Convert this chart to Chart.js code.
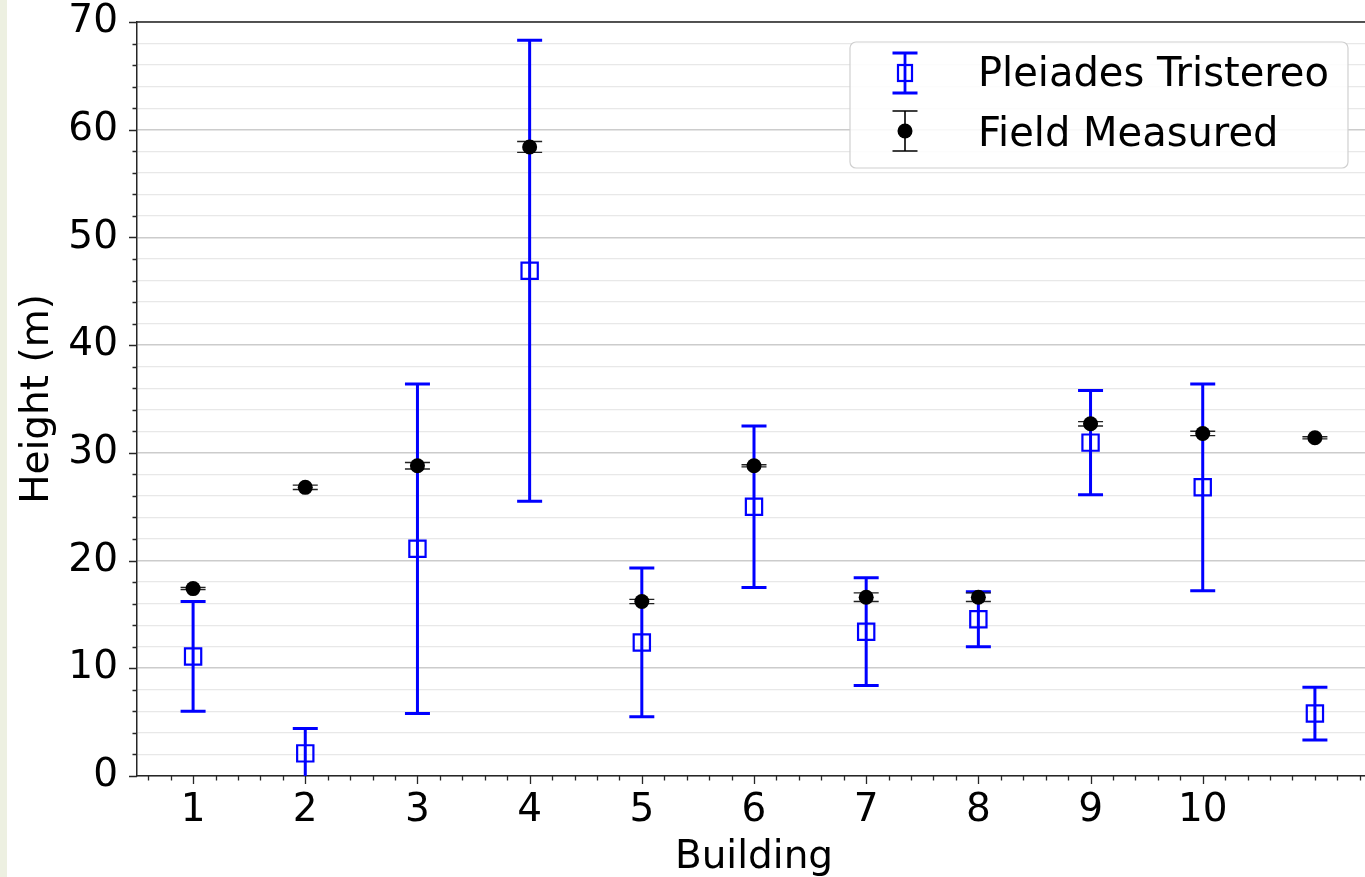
<!DOCTYPE html>
<html>
<head>
<meta charset="utf-8">
<script src="https://cdn.jsdelivr.net/npm/chart.js@4/dist/chart.umd.min.js"></script>
<style>
  html, body { margin: 0; padding: 0; overflow: hidden; background: #edf0e1; }
  #chart { position: absolute; left: 7px; top: 0; background: #ffffff; }
</style>
</head>
<body>
<canvas id="chart" width="1380" height="877"></canvas>
<script>
// building numbers on the x axis
const buildings = [1, 2, 3, 4, 5, 6, 7, 8, 9, 10, 11];

// Pleiades Tristereo heights and symmetric errors (m)
const pleiadesHeight = [11.1, 2.1, 21.1, 46.9, 12.4, 25.0, 13.4, 14.55, 30.95, 26.8, 5.8];
const pleiadesErr = [5.1, 2.3, 15.3, 21.4, 6.9, 7.5, 5.0, 2.55, 4.85, 9.6, 2.45];

// field measured heights and errors (m)
const fieldHeight = [17.4, 26.8, 28.8, 58.4, 16.2, 28.8, 16.6, 16.6, 32.7, 31.8, 31.4];
const fieldErr = [0.1, 0.2, 0.3, 0.5, 0.2, 0.1, 0.4, 0.4, 0.2, 0.2, 0.1];

// axis ticks
const xTickValues = [1, 2, 3, 4, 5, 6, 7, 8, 9, 10];
const xTickLabels = ["1", "2", "3", "4", "5", "6", "7", "8", "9", "10"];
const yTickValues = [0, 10, 20, 30, 40, 50, 60, 70];
const yMinorStep = 2;
const xMinorStep = 0.2;

const FONT = "DejaVu Sans";
const FONT_SIZE = 39;
const BLUE = "#0000ff";

const yAllTicks = [];
for (let v = 0; v <= 70; v += yMinorStep) yAllTicks.push(v);

// draws error bars before each dataset's points
const errorBars = {
  id: "errorBars",
  beforeDatasetDraw(chart, args) {
    const ds = chart.data.datasets[args.index];
    const { x, y } = chart.scales;
    const area = chart.chartArea;
    const ctx = chart.ctx;
    ctx.save();
    ctx.beginPath();
    ctx.rect(area.left, area.top, area.right - area.left, area.bottom - area.top);
    ctx.clip();
    ctx.strokeStyle = ds.errColor;
    ctx.lineWidth = ds.errWidth;
    ds.data.forEach((p, i) => {
      const px = x.getPixelForValue(p.x);
      const top = y.getPixelForValue(p.y + ds.errors[i]);
      const bot = y.getPixelForValue(p.y - ds.errors[i]);
      ctx.beginPath();
      ctx.moveTo(px, top); ctx.lineTo(px, bot);
      ctx.moveTo(px - 12.5, top); ctx.lineTo(px + 12.5, top);
      ctx.moveTo(px - 12.5, bot); ctx.lineTo(px + 12.5, bot);
      ctx.stroke();
    });
    ctx.restore();
  }
};

// tick marks, top spine and legend
const frame = {
  id: "frame",
  afterDraw(chart) {
    const ctx = chart.ctx;
    const { x, y } = chart.scales;
    const area = chart.chartArea;
    ctx.save();
    ctx.strokeStyle = "#262626";
    ctx.lineWidth = 1.3;
    ctx.beginPath();
    yAllTicks.forEach(v => {
      const py = Math.round(y.getPixelForValue(v)) + 0.5;
      const len = v % 10 === 0 ? 8 : 4.5;
      ctx.moveTo(area.left - len, py); ctx.lineTo(area.left, py);
    });
    for (let k = 3; k <= 57; k++) {
      const v = k * xMinorStep;
      const px = Math.round(x.getPixelForValue(v)) + 0.5;
      const major = xTickValues.includes(Math.round(v * 10) / 10);
      ctx.moveTo(px, area.bottom); ctx.lineTo(px, area.bottom + (major ? 8 : 4.5));
    }
    ctx.stroke();
    // top and right spines
    ctx.lineWidth = 1.5;
    ctx.beginPath();
    ctx.moveTo(area.left, area.top); ctx.lineTo(area.right, area.top);
    ctx.moveTo(area.right, area.top); ctx.lineTo(area.right, area.bottom);
    ctx.stroke();

    // legend
    const lx = 843, ly = 42, lw = 498, lh = 126;
    ctx.beginPath();
    ctx.roundRect(lx, ly, lw, lh, 6);
    ctx.fillStyle = "rgba(255,255,255,0.85)";
    ctx.fill();
    ctx.strokeStyle = "#d0d0d0";
    ctx.lineWidth = 1.2;
    ctx.stroke();

    const ix = 898;
    // Pleiades icon
    let cy = 73;
    ctx.strokeStyle = BLUE;
    ctx.lineWidth = 2.8;
    ctx.beginPath();
    ctx.moveTo(ix, cy - 20); ctx.lineTo(ix, cy + 20);
    ctx.moveTo(ix - 12.5, cy - 20); ctx.lineTo(ix + 12.5, cy - 20);
    ctx.moveTo(ix - 12.5, cy + 20); ctx.lineTo(ix + 12.5, cy + 20);
    ctx.stroke();
    ctx.lineWidth = 2.2;
    ctx.strokeRect(ix - 7, cy - 8, 14, 16);
    // Field icon
    cy = 131;
    ctx.strokeStyle = "#000";
    ctx.lineWidth = 1.6;
    ctx.beginPath();
    ctx.moveTo(ix, cy - 20); ctx.lineTo(ix, cy + 20);
    ctx.moveTo(ix - 12.5, cy - 20); ctx.lineTo(ix + 12.5, cy - 20);
    ctx.moveTo(ix - 12.5, cy + 20); ctx.lineTo(ix + 12.5, cy + 20);
    ctx.stroke();
    ctx.fillStyle = "#000";
    ctx.beginPath();
    ctx.arc(ix, cy, 7.5, 0, Math.PI * 2);
    ctx.fill();

    ctx.font = "40px '" + FONT + "'";
    ctx.textBaseline = "alphabetic";
    ctx.textAlign = "left";
    ctx.fillText("Pleiades Tristereo", 971, 86);
    ctx.fillText("Field Measured", 971, 146);
    ctx.restore();
  }
};

const points = (xs, ys) => xs.map((b, i) => ({ x: b, y: ys[i] }));

new Chart(document.getElementById("chart"), {
  type: "scatter",
  data: {
    datasets: [
      {
        label: "Pleiades Tristereo",
        data: points(buildings, pleiadesHeight),
        errors: pleiadesErr,
        errColor: BLUE,
        errWidth: 3,
        pointStyle: "rect",
        pointRadius: 11.5,
        pointBorderWidth: 2.2,
        pointBorderColor: BLUE,
        pointBackgroundColor: "rgba(0,0,0,0)",
        order: 2
      },
      {
        label: "Field Measured",
        data: points(buildings, fieldHeight),
        errors: fieldErr,
        errColor: "#222222",
        errWidth: 1.4,
        pointStyle: "circle",
        pointRadius: 7.5,
        pointBorderWidth: 0,
        pointBackgroundColor: "#000000",
        order: 1
      }
    ]
  },
  options: {
    responsive: false,
    devicePixelRatio: 1,
    animation: false,
    events: [],
    clip: false,
    layout: { padding: { top: 22, right: 16, left: 0, bottom: 0 } },
    plugins: { legend: { display: false }, tooltip: { enabled: false } },
    scales: {
      x: {
        type: "linear",
        min: 0.5,
        max: 11.5,
        afterBuildTicks: s => { s.ticks = xTickValues.map(v => ({ value: v })); },
        afterFit: s => {
          s.height = 101;
          s.paddingLeft = 0; s.paddingRight = 0;
        },
        ticks: {
          autoSkip: false,
          maxRotation: 0,
          padding: 11,
          color: "#000",
          font: { family: FONT, size: FONT_SIZE },
          callback: v => xTickLabels[xTickValues.indexOf(v)] ?? ""
        },
        grid: { display: false, drawTicks: false },
        border: { color: "#262626", width: 1.5 },
        title: {
          display: true,
          text: "Building",
          color: "#000",
          font: { family: FONT, size: FONT_SIZE },
          padding: { top: 0, bottom: -4 }
        }
      },
      y: {
        type: "linear",
        min: 0,
        max: 70,
        afterBuildTicks: s => { s.ticks = yAllTicks.map(v => ({ value: v })); },
        afterFit: s => {
          s.width = 130;
          s.paddingTop = 0; s.paddingBottom = 0;
        },
        ticks: {
          autoSkip: false,
          padding: 19,
          color: "#000",
          font: { family: FONT, size: FONT_SIZE },
          callback: v => yTickValues.includes(v) ? String(v) : ""
        },
        grid: {
          drawTicks: false,
          color: c => c.tick && c.tick.value % 10 === 0 ? "#cccccc" : "#e8e8e8",
          lineWidth: c => c.tick && c.tick.value % 10 === 0 ? 1.6 : 1.3
        },
        border: { color: "#262626", width: 1.5 },
        title: {
          display: true,
          text: "Height (m)",
          color: "#000",
          font: { family: FONT, size: FONT_SIZE },
          padding: { top: 7, bottom: 0 }
        }
      }
    }
  },
  plugins: [errorBars, frame]
});
</script>
</body>
</html>
